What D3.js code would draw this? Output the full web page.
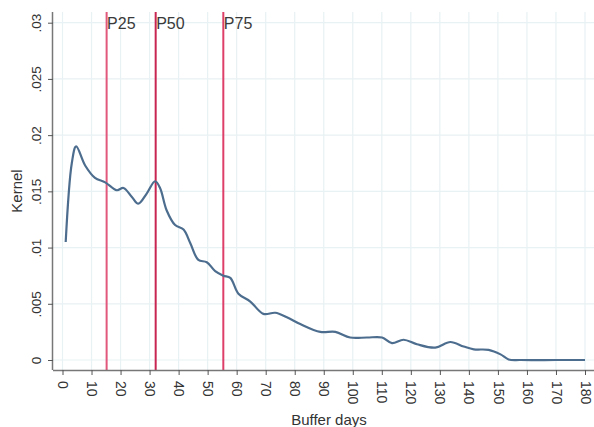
<!DOCTYPE html>
<html>
<head>
<meta charset="utf-8">
<script src="https://cdn.jsdelivr.net/npm/d3@7"></script>
<style>
  body { margin: 0; background: #fff; }
  svg { display: block; font-family: "Liberation Sans", Arial, sans-serif; }
</style>
</head>
<body>
<svg id="chart" width="594" height="427"></svg>
<script>
// kernel density estimate of buffer days
const days = [1.1, 3.2, 4.7, 7.8, 11.2, 14.7, 18.7, 21.0, 23.9, 26.1, 29.0, 31.9, 33.6, 35.9, 38.8, 41.7, 44.0, 46.8, 49.7, 52.6, 55.4, 57.8, 60.6, 64.7, 69.2, 73.3, 77.3, 81.9, 88.8, 94.0, 99.1, 104.9, 110.1, 113.5, 117.5, 122.1, 128.4, 133.6, 138.2, 141.7, 146.8, 150.9, 153.7, 157.8, 170, 180];
const kernel = [0.0105, 0.0175, 0.019, 0.0173, 0.0162, 0.0158, 0.0151, 0.0153, 0.0145, 0.0139, 0.0148, 0.0159, 0.0153, 0.0133, 0.0120, 0.0116, 0.0104, 0.0089, 0.0087, 0.0079, 0.0075, 0.0073, 0.0059, 0.0052, 0.0041, 0.0042, 0.0038, 0.0032, 0.0025, 0.0025, 0.0020, 0.0020, 0.0020, 0.0015, 0.0018, 0.0014, 0.0011, 0.0016, 0.0012, 0.00095, 0.0009, 0.0005, 0.00005, 0, 0, 0];

const pctNames = ["P25", "P50", "P75"];
const pctValues = [15.2, 32.1, 55.4];
const pctColors = ["#e2577c", "#c92552", "#dd3f69"];

const xTicks = d3.range(0, 181, 10);
const yTicks = [0, 0.005, 0.01, 0.015, 0.02, 0.025, 0.03];

const svg = d3.select("#chart");
const box = { left: 53, right: 594, top: 12, bottom: 370 };

const x = d3.scaleLinear().domain([0, 180]).range([62.5, 585]);
const y = d3.scaleLinear().domain([0, 0.03]).range([360, 22.7]);

// grid
svg.append("g").selectAll("line").data(xTicks).enter().append("line")
  .attr("x1", d => x(d)).attr("x2", d => x(d))
  .attr("y1", box.top).attr("y2", box.bottom)
  .attr("stroke", "#e8f1f3").attr("stroke-width", 1.2);
svg.append("g").selectAll("line").data(yTicks).enter().append("line")
  .attr("x1", box.left).attr("x2", box.right)
  .attr("y1", d => y(d)).attr("y2", d => y(d))
  .attr("stroke", "#e8f1f3").attr("stroke-width", 1.2);

// percentile lines
svg.append("g").selectAll("line").data(pctValues).enter().append("line")
  .attr("x1", d => x(d)).attr("x2", d => x(d))
  .attr("y1", box.top).attr("y2", box.bottom)
  .attr("stroke", (d, i) => pctColors[i]).attr("stroke-width", 2);
svg.append("g").selectAll("text").data(pctValues).enter().append("text")
  .attr("x", d => x(d) + 0.5).attr("y", 28.5)
  .attr("font-size", 16).attr("fill", "#3a3a3a")
  .text((d, i) => pctNames[i]);

// density curve
const line = d3.line()
  .x((d, i) => x(days[i]))
  .y(d => y(d))
  .curve(d3.curveCatmullRom.alpha(0.5));
svg.append("path")
  .datum(kernel)
  .attr("d", line)
  .attr("fill", "none")
  .attr("stroke", "#4d6d8e")
  .attr("stroke-width", 2.2)
  .attr("stroke-linejoin", "round");

// axes
const xAxis = svg.append("g")
  .attr("transform", `translate(0,${box.bottom})`)
  .call(d3.axisBottom(x).tickValues(xTicks).tickSize(5).tickSizeOuter(0).tickFormat(d3.format("d")));
xAxis.select(".domain").attr("d", `M${box.left},0.5H${box.right}`).attr("stroke", "#777").attr("stroke-width", 1.5);
xAxis.selectAll(".tick line").attr("stroke", "#555");
xAxis.selectAll(".tick text")
  .attr("transform", "rotate(90)")
  .attr("x", 11).attr("y", 0).attr("dy", "0.35em")
  .style("text-anchor", "start")
  .attr("font-size", 14).attr("fill", "#333");

const yAxis = svg.append("g")
  .attr("transform", `translate(${box.left},0)`)
  .call(d3.axisLeft(y).tickValues(yTicks).tickSize(5).tickSizeOuter(0)
    .tickFormat(d => d === 0 ? "0" : d3.format("")(d).replace(/^0/, "")));
yAxis.select(".domain").attr("d", `M-0.5,${box.top}V${box.bottom}`).attr("stroke", "#777").attr("stroke-width", 1.5);
yAxis.selectAll(".tick line").attr("stroke", "#555");
yAxis.selectAll(".tick text")
  .attr("transform", "rotate(-90)")
  .attr("x", 0).attr("y", -12).attr("dy", 0)
  .style("text-anchor", "middle")
  .attr("font-size", 13.5).attr("fill", "#333");

// axis titles
svg.append("text")
  .attr("x", 329).attr("y", 425)
  .attr("text-anchor", "middle")
  .attr("font-size", 15).attr("fill", "#333")
  .text("Buffer days");
svg.append("text")
  .attr("transform", "translate(22,191) rotate(-90)")
  .attr("text-anchor", "middle")
  .attr("font-size", 15).attr("fill", "#333")
  .text("Kernel");
</script>
</body>
</html>
